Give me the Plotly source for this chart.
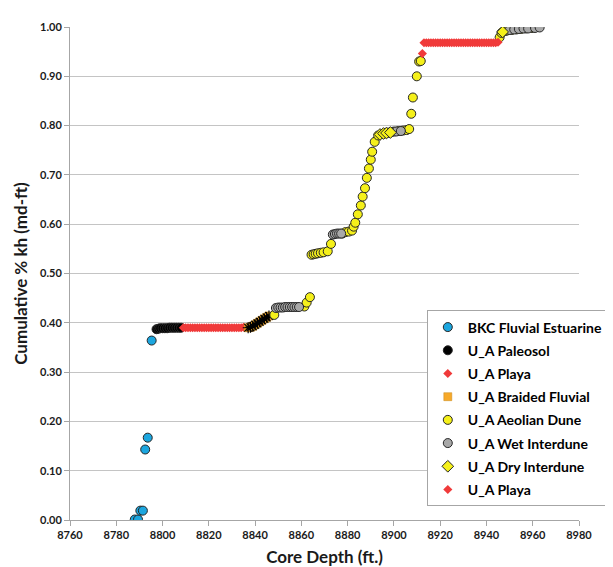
import plotly.graph_objects as go

# ---- data ----
bkc_x = [8788.0, 8789.4, 8790.4, 8791.5, 8792.5, 8793.6, 8795.3]
bkc_y = [0.001, 0.001, 0.019, 0.019, 0.143, 0.167, 0.364]

paleo_x = [8797.4, 8798.2, 8799, 8800, 8801, 8802, 8803, 8804, 8805, 8806, 8807, 8808]
paleo_y = [0.387, 0.388, 0.389, 0.389, 0.389, 0.389, 0.390, 0.390, 0.390, 0.390, 0.390, 0.390]

playa1_x = [8809, 8810, 8811, 8812, 8813, 8814, 8815, 8816, 8817, 8818, 8819, 8820, 8821, 8822,
            8823, 8824, 8825, 8826, 8827, 8828, 8829, 8830, 8831, 8832, 8833, 8834, 8835]
playa1_y = [0.390, 0.390, 0.390, 0.390, 0.390, 0.390, 0.390, 0.390, 0.390, 0.390, 0.390, 0.390,
            0.390, 0.390, 0.390, 0.390, 0.390, 0.390, 0.390, 0.390, 0.390, 0.390, 0.390, 0.390,
            0.390, 0.390, 0.391]

braid_x = [8837, 8838, 8839, 8840, 8841, 8842, 8843, 8844, 8845, 8846]
braid_y = [0.390, 0.391, 0.393, 0.396, 0.399, 0.402, 0.405, 0.408, 0.411, 0.414]

aeol_x = [8848.3, 8861.3, 8862.3, 8863.7,
          8864.4, 8865.3, 8866.2, 8867.2, 8868.4, 8869.6, 8871.4, 8872.8,
          8877.7, 8879.1, 8880.5, 8881.9, 8882.6, 8883.3, 8884.4, 8885.7, 8886.5,
          8887.5, 8888.3, 8889.2, 8890.0, 8890.6, 8891.7,
          8893.2, 8896.0, 8898.0, 8900.0, 8902.0, 8904.0, 8905.5, 8906.6,
          8907.5, 8908.2, 8909.9, 8910.9, 8911.6,
          8945.7, 8946.5, 8947.3, 8948.2, 8949.0, 8951.0, 8953.0, 8955.0, 8957.0, 8959.7]
aeol_y = [0.416, 0.433, 0.441, 0.452,
          0.538, 0.539, 0.540, 0.541, 0.542, 0.543, 0.545, 0.560,
          0.581, 0.584, 0.585, 0.587, 0.595, 0.603, 0.620, 0.638, 0.656,
          0.673, 0.694, 0.713, 0.731, 0.747, 0.767,
          0.780, 0.784, 0.786, 0.788, 0.789, 0.790, 0.791, 0.793,
          0.824, 0.857, 0.900, 0.930, 0.931,
          0.979, 0.988, 0.991, 0.992, 0.993, 0.994, 0.995, 0.996, 0.997, 0.998]

wet_x = [8849, 8850, 8851, 8852, 8853, 8854, 8855, 8856, 8857, 8858, 8859,
         8873.6, 8874.5, 8875.4, 8876.3, 8877.2,
         8895, 8897, 8899, 8901, 8903,
         8950, 8952, 8954, 8956, 8958, 8961, 8963]
wet_y = [0.430, 0.431, 0.431, 0.431, 0.432, 0.432, 0.432, 0.432, 0.432, 0.432, 0.432,
         0.579, 0.580, 0.581, 0.581, 0.581,
         0.783, 0.785, 0.787, 0.788, 0.789,
         0.994, 0.995, 0.996, 0.997, 0.997, 0.998, 0.999]

dry_x = [8894.0, 8895.5, 8896.8, 8898.5, 8947.0]
dry_y = [0.782, 0.784, 0.785, 0.786, 0.990]

playa2_x = [8912.3, 8913, 8914, 8915, 8916, 8917, 8918, 8919, 8920, 8921, 8922, 8923, 8924,
            8925, 8926, 8927, 8928, 8929, 8930, 8931, 8932, 8933, 8934, 8935, 8936, 8937,
            8938, 8939, 8940, 8941, 8942, 8943, 8944, 8945]
playa2_y = [0.946, 0.968, 0.968, 0.968, 0.968, 0.968, 0.968, 0.968, 0.968, 0.968, 0.968,
            0.968, 0.968, 0.968, 0.968, 0.968, 0.968, 0.968, 0.968, 0.968, 0.968, 0.968,
            0.968, 0.968, 0.968, 0.968, 0.968, 0.968, 0.968, 0.968, 0.968, 0.968, 0.968, 0.969]

x_ticks = [8760, 8780, 8800, 8820, 8840, 8860, 8880, 8900, 8920, 8940, 8960, 8980]
y_ticks = [0.0, 0.1, 0.2, 0.3, 0.4, 0.5, 0.6, 0.7, 0.8, 0.9, 1.0]

OUT = "#262626"
FONT = "Lato"

fig = go.Figure()

def circ(name, x, y, color, grp):
    fig.add_trace(go.Scatter(x=x, y=y, mode="markers", name=name, legendgroup=grp,
                             marker=dict(symbol="circle", size=9, color=color,
                                         line=dict(color=OUT, width=1))))

circ("BKC Fluvial Estuarine", bkc_x, bkc_y, "#1CA6DF", "g1")
circ("U_A Paleosol", paleo_x, paleo_y, "#000000", "g2")
fig.add_trace(go.Scatter(x=playa1_x, y=playa1_y, mode="markers", name="U_A Playa", legendgroup="g3",
                         marker=dict(symbol="diamond", size=7, color="#F03A3A", line=dict(width=0))))
fig.add_trace(go.Scatter(x=braid_x, y=braid_y, mode="markers", name="U_A Braided Fluvial", legendgroup="g4",
                         marker=dict(symbol="square", size=8, color="#F7A929",
                                     line=dict(color="#C98A1E", width=0.5))))
fig.add_trace(go.Scatter(x=braid_x, y=braid_y, mode="markers", name="U_A Braided Fluvial", legendgroup="g4",
                         showlegend=False,
                         marker=dict(symbol="asterisk-open", size=9, color="#000000",
                                     line=dict(color="#000000", width=1.2))))
circ("U_A Aeolian Dune", aeol_x, aeol_y, "#F5F01A", "g5")
circ("U_A Wet Interdune", wet_x, wet_y, "#A8A8A8", "g6")
fig.add_trace(go.Scatter(x=dry_x, y=dry_y, mode="markers", name="U_A Dry Interdune", legendgroup="g7",
                         marker=dict(symbol="diamond", size=9, color="#F5F01A",
                                     line=dict(color=OUT, width=1))))
fig.add_trace(go.Scatter(x=playa2_x, y=playa2_y, mode="markers", name="U_A Playa", legendgroup="g8",
                         marker=dict(symbol="diamond", size=7, color="#F03A3A", line=dict(width=0))))

fig.update_layout(
    width=613, height=567,
    margin=dict(l=60, r=30, t=16, b=49),
    paper_bgcolor="white", plot_bgcolor="white",
    font=dict(family=FONT, color="#1a1a1a"),
    showlegend=True,
    legend=dict(x=0.701, y=0.425, xanchor="left", yanchor="top",
                bgcolor="white", bordercolor="#A6A6A6", borderwidth=1,
                font=dict(family=FONT, size=14, color="#000000", weight="bold"),
                traceorder="grouped", tracegroupgap=2, itemwidth=30),
    xaxis=dict(range=[8760, 8980], tickvals=x_ticks, ticktext=[str(v) for v in x_ticks],
               showgrid=False, zeroline=False, showline=True, linecolor="#A6A6A6", linewidth=1,
               ticks="outside", ticklen=5, tickcolor="#A6A6A6",
               tickfont=dict(family=FONT, size=11, color="#1a1a1a", weight="bold"),
               title=dict(text="Core Depth (ft.)", standoff=10,
                          font=dict(family=FONT, size=17, color="#1a1a1a", weight="bold"))),
    yaxis=dict(range=[0, 1], tickvals=y_ticks, tickformat=".2f",
               showgrid=True, gridcolor="#C4C4C4", gridwidth=1, zeroline=False,
               showline=True, linecolor="#A6A6A6", linewidth=1,
               ticks="outside", ticklen=5, tickcolor="#A6A6A6",
               tickfont=dict(family=FONT, size=11, color="#1a1a1a", weight="bold"),
               title=dict(text="Cumulative % kh (md-ft)", standoff=8,
                          font=dict(family=FONT, size=17, color="#1a1a1a", weight="bold"))),
)

fig.write_html("out.html")
